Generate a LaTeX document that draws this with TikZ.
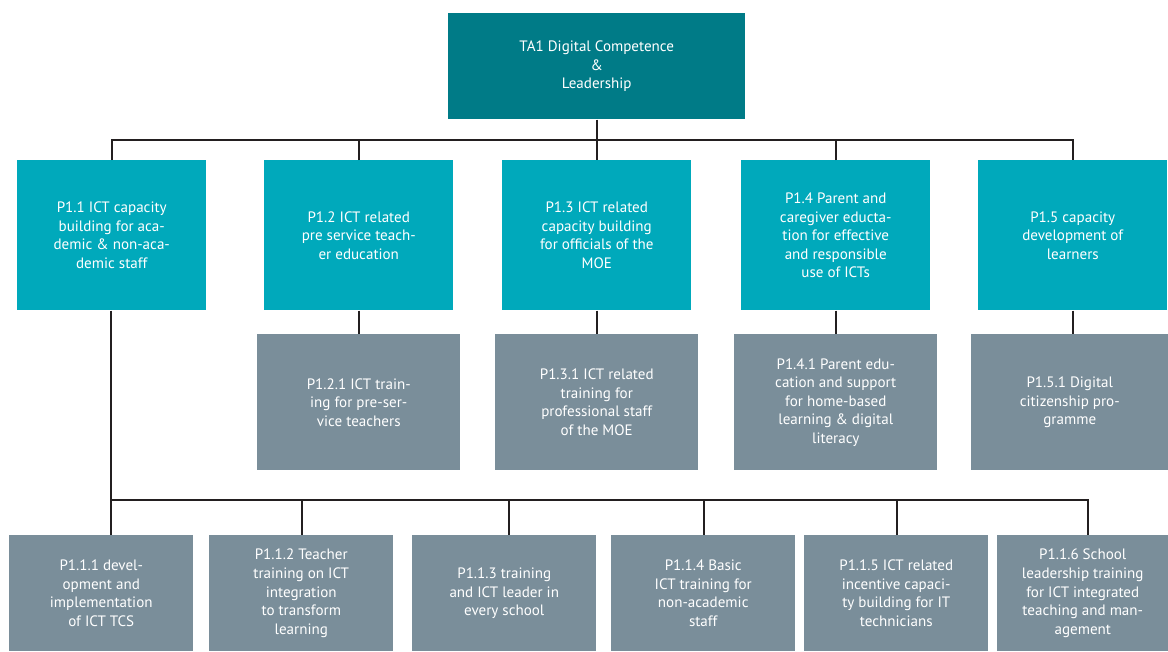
\documentclass[tikz,border=0pt]{standalone}
\usepackage{fontspec}
\setmainfont{PT Sans}
\definecolor{tealdark}{HTML}{007B87}
\definecolor{tealmid}{HTML}{00A9BB}
\definecolor{slate}{HTML}{7A8E9A}
\definecolor{wire}{HTML}{231F20}
\begin{document}
\begin{tikzpicture}[x=0.75pt,y=-0.75pt,
  box/.style={anchor=north west, inner sep=0pt, align=center, text=white,
    font=\fontsize{11.3}{13.9}\selectfont},
  headbox/.style={box, fill=tealdark, minimum width=222.75pt, minimum height=79.5pt},
  pillarbox/.style={box, fill=tealmid, minimum width=141.75pt, minimum height=112.5pt},
  subbox/.style={box, fill=slate, minimum width=152.25pt, minimum height=102pt},
  leafbox/.style={box, fill=slate, minimum width=138pt, minimum height=87pt},
  link/.style={draw=wire, line width=1.7pt}]
\useasboundingbox (0,0) rectangle (1168,651);

% root
\node[headbox] (ta) at (448,13) {TA1 Digital Competence\\\&\\Leadership};

% first level
\node[pillarbox] (p11) at (17,160) {P1.1 ICT capacity\\building for aca-\\demic \& non-aca-\\demic staff};
\node[pillarbox] (p12) at (264,160) {P1.2 ICT related\\pre service teach-\\er education};
\node[pillarbox] (p13) at (502,160) {P1.3 ICT related\\capacity building\\for officials of the\\MOE};
\node[pillarbox] (p14) at (741,160) {P1.4 Parent and\\caregiver educta-\\tion for effective\\and responsible\\use of ICTs};
\node[pillarbox] (p15) at (978,160) {P1.5 capacity\\development of\\learners};

% second level
\node[subbox] (p121) at (257,334) {P1.2.1 ICT train-\\ing for pre-ser-\\vice teachers};
\node[subbox] (p131) at (495,334) {P1.3.1 ICT related\\training for\\professional staff\\of the MOE};
\node[subbox] (p141) at (734,334) {P1.4.1 Parent edu-\\cation and support\\for home-based\\learning \& digital\\literacy};
\node[subbox, minimum width=147.75pt] (p151) at (971,334) {P1.5.1 Digital\\citizenship pro-\\gramme};

% third level under P1.1
\node[leafbox] (p111) at (9,535) {P1.1.1 devel-\\opment and\\implementation\\of ICT TCS};
\node[leafbox] (p112) at (209,535) {P1.1.2 Teacher\\training on ICT\\integration\\to transform\\learning};
\node[leafbox] (p113) at (412,535) {P1.1.3 training\\and ICT leader in\\every school};
\node[leafbox] (p114) at (611,535) {P1.1.4 Basic\\ICT training for\\non-academic\\staff};
\node[leafbox] (p115) at (804,535) {P1.1.5 ICT related\\incentive capaci-\\ty building for IT\\technicians};
\node[leafbox, minimum width=128.25pt] (p116) at (997,535) {P1.1.6 School\\leadership training\\for ICT integrated\\teaching and man-\\agement};

% bus rails
\coordinate (topbus) at (0,140);
\coordinate (k1) at (111,500);
\coordinate (k2) at (302,500);
\coordinate (k3) at (509,500);
\coordinate (k4) at (704,500);
\coordinate (k5) at (897,500);
\coordinate (k6) at (1088,500);

% root to first level
\draw[link] (ta.south) -- (p13.north);
\draw[link] (p11.north) |- (topbus -| p15.north) -- (p15.north);
\draw[link] (p12.north) -- (p12.north |- topbus);
\draw[link] (p14.north) -- (p14.north |- topbus);

% first to second level
\draw[link] (p12.south) -- (p12.south |- p121.north);
\draw[link] (p13.south) -- (p13.south |- p131.north);
\draw[link] (p14.south) -- (p14.south |- p141.north);
\draw[link] (p15.south) -- (p15.south |- p151.north);

% P1.1 to its sub-programmes
\draw[link] (p11.south -| k1) -- (k1) -- (k1 |- p111.north);
\draw[link] (k1) -- (k6) -- (k6 |- p116.north);
\draw[link] (k2) -- (k2 |- p112.north);
\draw[link] (k3) -- (k3 |- p113.north);
\draw[link] (k4) -- (k4 |- p114.north);
\draw[link] (k5) -- (k5 |- p115.north);
\end{tikzpicture}
\end{document}
